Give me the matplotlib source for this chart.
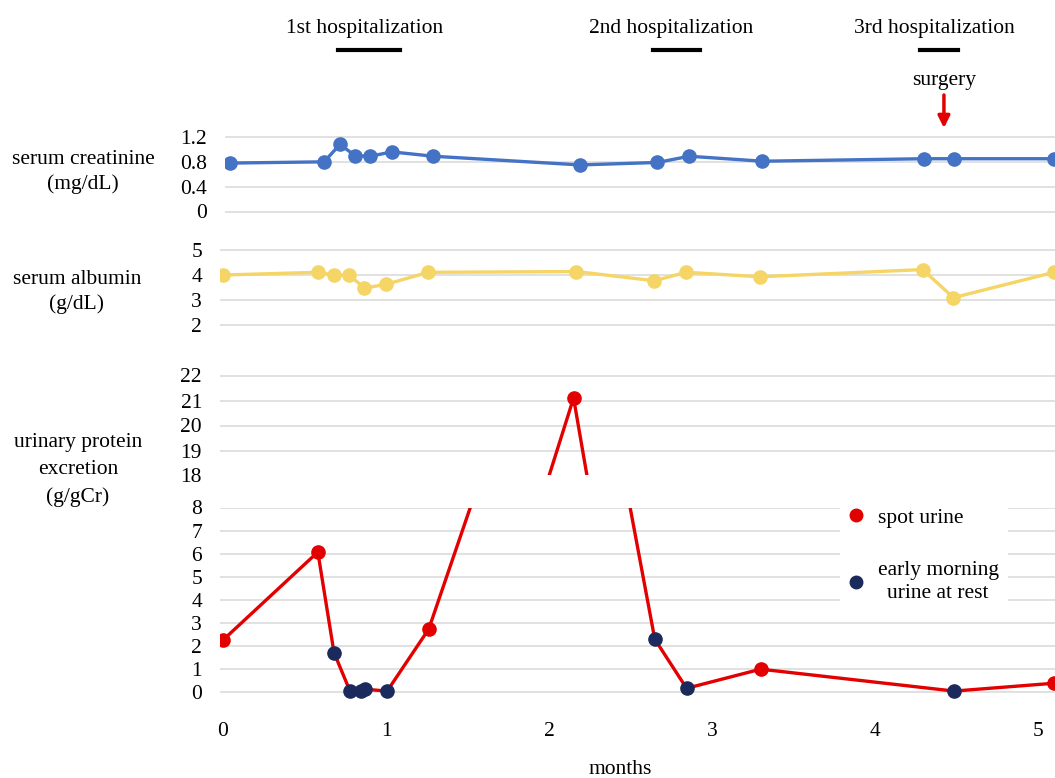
import matplotlib
matplotlib.use("Agg")
import matplotlib.pyplot as plt
import matplotlib.transforms as mtransforms
from matplotlib.lines import Line2D

plt.rcParams['font.family'] = ['Liberation Serif', 'DejaVu Serif']

# blood tests (months from first visit)
months = [0.0, 0.582, 0.681, 0.774, 0.868, 1.002, 1.259, 2.167, 2.644, 2.841, 3.293, 4.291, 4.479, 5.096]
creatinine = [0.78, 0.80, 1.08, 0.90, 0.89, 0.96, 0.89, 0.75, 0.79, 0.89, 0.81, 0.85, 0.85, 0.85]
albumin = [4.0, 4.11, 4.0, 4.0, 3.47, 3.63, 4.11, 4.14, 3.77, 4.11, 3.93, 4.22, 3.09, 4.11]

# urine tests
urine_months = [0.0, 0.582, 0.681, 0.779, 0.847, 0.872, 1.007, 1.262, 2.150, 2.648, 2.843, 3.297, 4.483, 5.096]
urine_protein = [2.25, 6.07, 1.71, 0.04, 0.04, 0.12, 0.04, 2.73, 21.1, 2.29, 0.16, 0.99, 0.04, 0.38]
urine_type = ['spot', 'spot', 'rest', 'rest', 'rest', 'rest', 'rest', 'spot',
              'spot', 'rest', 'rest', 'spot', 'rest', 'spot']

hosp_labels = ['1st hospitalization', '2nd hospitalization', '3rd hospitalization']
hosp_start = [0.706, 2.637, 4.274]
hosp_end = [1.085, 2.925, 4.507]
surgery_month = 4.421

xticks = [0, 1, 2, 3, 4, 5]

BLUE = '#4472C4'
YELLOW = '#F5D565'
RED = '#E30000'
NAVY = '#1B2A5C'
GRID = '#D9D9D9'
FS = 15.5

W, H = 1055, 778
fig = plt.figure(figsize=(W / 100, H / 100), dpi=100)


def make_axes(x0, x1, v_lo, px_lo, v_hi, px_hi, ylim):
    # place axes so that v_lo sits at pixel row px_lo and v_hi at px_hi
    k = (px_lo - px_hi) / (v_hi - v_lo)
    top = px_hi - (ylim[1] - v_hi) * k
    bot = px_lo + (v_lo - ylim[0]) * k
    ax = fig.add_axes([x0 / W, 1 - bot / H, (x1 - x0) / W, (bot - top) / H])
    ax.set_ylim(*ylim)
    for s in ax.spines.values():
        s.set_visible(False)
    ax.grid(axis='y', color=GRID, linewidth=1.1)
    ax.set_axisbelow(True)
    ax.tick_params(axis='y', length=0, pad=13, labelsize=FS)
    ax.tick_params(axis='x', length=0, labelbottom=False)
    return ax


xlim = (-0.018, 5.102)

ax_cr = make_axes(225, 1055, 0, 211.5, 1.2, 137, (-0.05, 1.25))
ax_cr.set_xlim(-0.03, 5.102)
ax_cr.set_yticks([0, 0.4, 0.8, 1.2])
ax_cr.set_yticklabels(['0', '0.4', '0.8', '1.2'])
ax_cr.plot(months, creatinine, color=BLUE, lw=2.4, marker='o', ms=9.5)

ax_alb = make_axes(220, 1055, 2, 324.7, 5, 250.2, (1.85, 5.15))
ax_alb.set_xlim(*xlim)
ax_alb.set_yticks([2, 3, 4, 5])
ax_alb.plot(months, albumin, color=YELLOW, lw=2.4, marker='o', ms=9.5)

ax_up = make_axes(220, 1055, 18, 475.5, 22, 375.5, (18, 22.3))
ax_up.set_xlim(*xlim)
ax_up.set_yticks([18, 19, 20, 21, 22])

ax_lo = make_axes(220, 1055, 0, 692, 8, 507.5, (-0.4, 8))
ax_lo.set_xlim(*xlim)
ax_lo.set_yticks(range(0, 9))
ax_lo.set_xticks(xticks)
ax_lo.tick_params(axis='x', labelbottom=True, labelsize=FS, pad=15)

for ax in (ax_up, ax_lo):
    ax.plot(urine_months, urine_protein, color=RED, lw=2.4, zorder=2)
    for t, col in (('spot', RED), ('rest', NAVY)):
        xs = [m for m, k in zip(urine_months, urine_type) if k == t]
        ys = [v for v, k in zip(urine_protein, urine_type) if k == t]
        ax.plot(xs, ys, ls='none', marker='o', ms=9.5, color=col, zorder=3)

handles = [Line2D([], [], ls='none', marker='o', ms=9, color=RED),
           Line2D([], [], ls='none', marker='o', ms=9, color=NAVY)]
leg = ax_lo.legend(handles, ['spot urine', 'early morning\nurine at rest'],
                   loc='upper left', bbox_to_anchor=(840 / W, 1 - 498 / H),
                   bbox_transform=fig.transFigure, fontsize=FS, frameon=True,
                   facecolor='white', edgecolor='none', framealpha=1,
                   borderpad=0.45, borderaxespad=0, labelspacing=1.55,
                   handlelength=0.6, handletextpad=0.7, fancybox=False)
for t in leg.get_texts():
    t.set_multialignment('center')
    t.set_linespacing(1.3)

# left-side labels
fig.text(83 / W, 1 - 172 / H, 'serum creatinine\n(mg/dL)', ha='center', va='center',
         fontsize=FS, linespacing=1.35)
fig.text(77 / W, 1 - 292 / H, 'serum albumin\n(g/dL)', ha='center', va='center',
         fontsize=FS, linespacing=1.35)
fig.text(78 / W, 1 - 470 / H, 'urinary protein\nexcretion\n(g/gCr)', ha='center',
         va='center', fontsize=FS, linespacing=1.55)

# hospitalization bars and surgery arrow
tr = mtransforms.blended_transform_factory(ax_alb.transData, fig.transFigure)
for lab, s, e in zip(hosp_labels, hosp_start, hosp_end):
    fig.add_artist(Line2D([s, e], [1 - 50 / H, 1 - 50 / H], color='black', lw=3,
                          transform=tr))
    fig.text((s + e) / 2 - 0.03, 1 - 28 / H, lab, ha='center', va='center',
             fontsize=FS, transform=tr)
fig.text(surgery_month, 1 - 81 / H, 'surgery', ha='center', va='center',
         fontsize=FS, transform=tr)
ax_alb.annotate('', xy=(surgery_month, 1 - 128 / H), xycoords=tr,
                xytext=(surgery_month, 1 - 95 / H), textcoords=tr,
                arrowprops=dict(arrowstyle='-|>,head_width=0.35,head_length=0.7',
                                color=RED, lw=2.5, shrinkA=0, shrinkB=0))

fig.text(620 / W, 1 - 769 / H, 'months', ha='center', va='center', fontsize=FS)

fig.savefig('out.png', dpi=100)
